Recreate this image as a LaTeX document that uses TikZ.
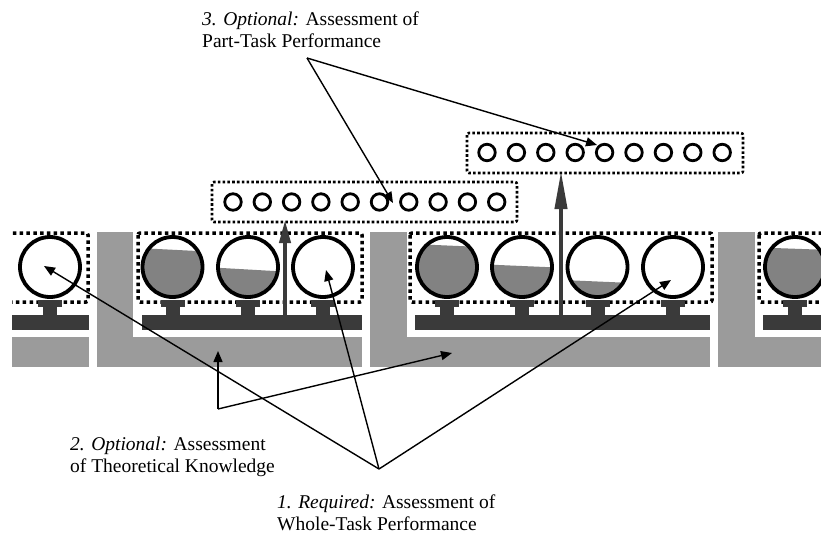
\documentclass[tikz,border=0pt]{standalone}
\usepackage{fontspec}
\setmainfont{Liberation Serif}
\usetikzlibrary{arrows.meta}
\definecolor{lgray}{HTML}{9B9B9B}
\definecolor{dgray}{HTML}{3A3A3A}
\definecolor{mgray}{HTML}{828282}
\begin{document}
\begin{tikzpicture}[x=1pt,y=-1pt,
  lab/.style={font=\fontsize{19.5}{22}\selectfont, inner sep=0pt, anchor=base west},
  bigbead/.style={circle, draw=black, line width=3.8pt, minimum size=60pt, inner sep=0pt},
  smallbead/.style={circle, draw=black, line width=2.8pt, minimum size=16.5pt, inner sep=0pt},
  bigdots/.style={draw=black, line width=3.5pt, dash pattern=on 3.5pt off 3.3pt, rounded corners=2pt},
  smalldots/.style={draw=black, line width=2.6pt, dash pattern=on 2.6pt off 2.2pt, rounded corners=2pt},
  pointer/.style={draw=black, line width=1.4pt, -{Triangle[length=11pt,width=9pt]}},
  uparrow/.style={draw=dgray, line width=4pt}
]
\useasboundingbox (0,0) rectangle (821,533);

% ---------- band of stations ----------
\begin{scope}
\clip (12,0) rectangle (821,533);
% light gray bars / L-shapes
\fill[lgray] (0,337) rectangle (89,367);
\fill[lgray] (97,232) rectangle (133,367);
\fill[lgray] (97,337) rectangle (362,367);
\fill[lgray] (370,232) rectangle (407,367);
\fill[lgray] (370,337) rectangle (710,367);
\fill[lgray] (718,232) rectangle (755,367);
\fill[lgray] (718,337) rectangle (830,367);
% dark bars
\fill[dgray] (0,315) rectangle (89,330);
\fill[dgray] (142,315) rectangle (362,330);
\fill[dgray] (415,315) rectangle (710,330);
\fill[dgray] (763,315) rectangle (830,330);
% dotted whole-task boxes
\draw[bigdots] (-20,233) rectangle (88,302);
\draw[bigdots] (138,233) rectangle (362,302);
\draw[bigdots] (410,233) rectangle (712,302);
\draw[bigdots] (759,233) rectangle (860,302);
% fill levels
\foreach \cx/\yl/\yr in {172.5/248/251.5, 248/267.5/271.5, 447/244/247, 522/264.5/267.5, 597.5/280/283, 795/247.5/250}{
  \begin{scope}
  \clip (\cx,267) circle (30);
  \fill[mgray] (\cx-35,\yl) -- (\cx+35,\yr) -- (\cx+35,310) -- (\cx-35,310) -- cycle;
  \end{scope}
}
% pedestals
\foreach \cx in {50,172.5,248,323,447,522,597.5,673,795}{
  \fill[dgray] (\cx-12,300) rectangle (\cx+12,307);
  \fill[dgray] (\cx-7,300) rectangle (\cx+7,316);
}
% beads
\node[bigbead] (w0) at (50,267) {};
\node[bigbead] (w1) at (172.5,267) {};
\node[bigbead] (w2) at (248,267) {};
\node[bigbead] (w3) at (323,267) {};
\node[bigbead] (w4) at (447,267) {};
\node[bigbead] (w5) at (522,267) {};
\node[bigbead] (w6) at (597.5,267) {};
\node[bigbead] (w7) at (673,267) {};
\node[bigbead] (w8) at (795,267) {};
\end{scope}

% ---------- part-task boxes ----------
\draw[smalldots] (212,182) rectangle (517,222);
\foreach \i in {0,...,9}{
  \node[smallbead] (pa\i) at (233+\i*29.3,202) {};
}
\draw[smalldots] (467,133) rectangle (743,173);
\foreach \i in {0,...,8}{
  \node[smallbead] (pb\i) at (487+\i*29.4,152.5) {};
}

% thick upward arrows
\coordinate (ua1) at (285,315);
\coordinate (ub1) at (285,220);
\coordinate (ua2) at (561,315);
\coordinate (ub2) at (561,171);
\draw[uparrow, -{Triangle[length=23pt,width=11pt]}] (ua1) -- (ub1);
\draw[uparrow, -{Triangle[length=38pt,width=12pt]}] (ua2) -- (ub2);

% ---------- labels ----------
\node[lab] (l3a) at (202,25) {\textit{3. Optional:} Assessment of};
\node[lab] (l3b) at (202,47) {Part-Task Performance};
\node[lab] (l2a) at (70,450.5) {\textit{2. Optional:} Assessment};
\node[lab] (l2b) at (70,472) {of Theoretical Knowledge};
\node[lab] (l1a) at (277,508) {\textit{1. Required:} Assessment of};
\node[lab] (l1b) at (277,530) {Whole-Task Performance};

% ---------- pointers ----------
\coordinate (v3) at (307,58);
\coordinate (t3a) at (393,203);
\coordinate (t3b) at (597,145);
\draw[pointer] (v3) -- (t3a);
\draw[pointer] (v3) -- (t3b);

\coordinate (v2) at (218,409);
\coordinate (t2a) at (218,351);
\coordinate (t2b) at (452,353);
\draw[pointer] (v2) -- (t2a);
\draw[pointer] (v2) -- (t2b);

\coordinate (v1) at (379,469);
\coordinate (t1a) at (44,266);
\coordinate (t1b) at (326,270);
\coordinate (t1c) at (671,280);
\draw[pointer] (v1) -- (t1a);
\draw[pointer] (v1) -- (t1b);
\draw[pointer] (v1) -- (t1c);
\end{tikzpicture}
\end{document}
